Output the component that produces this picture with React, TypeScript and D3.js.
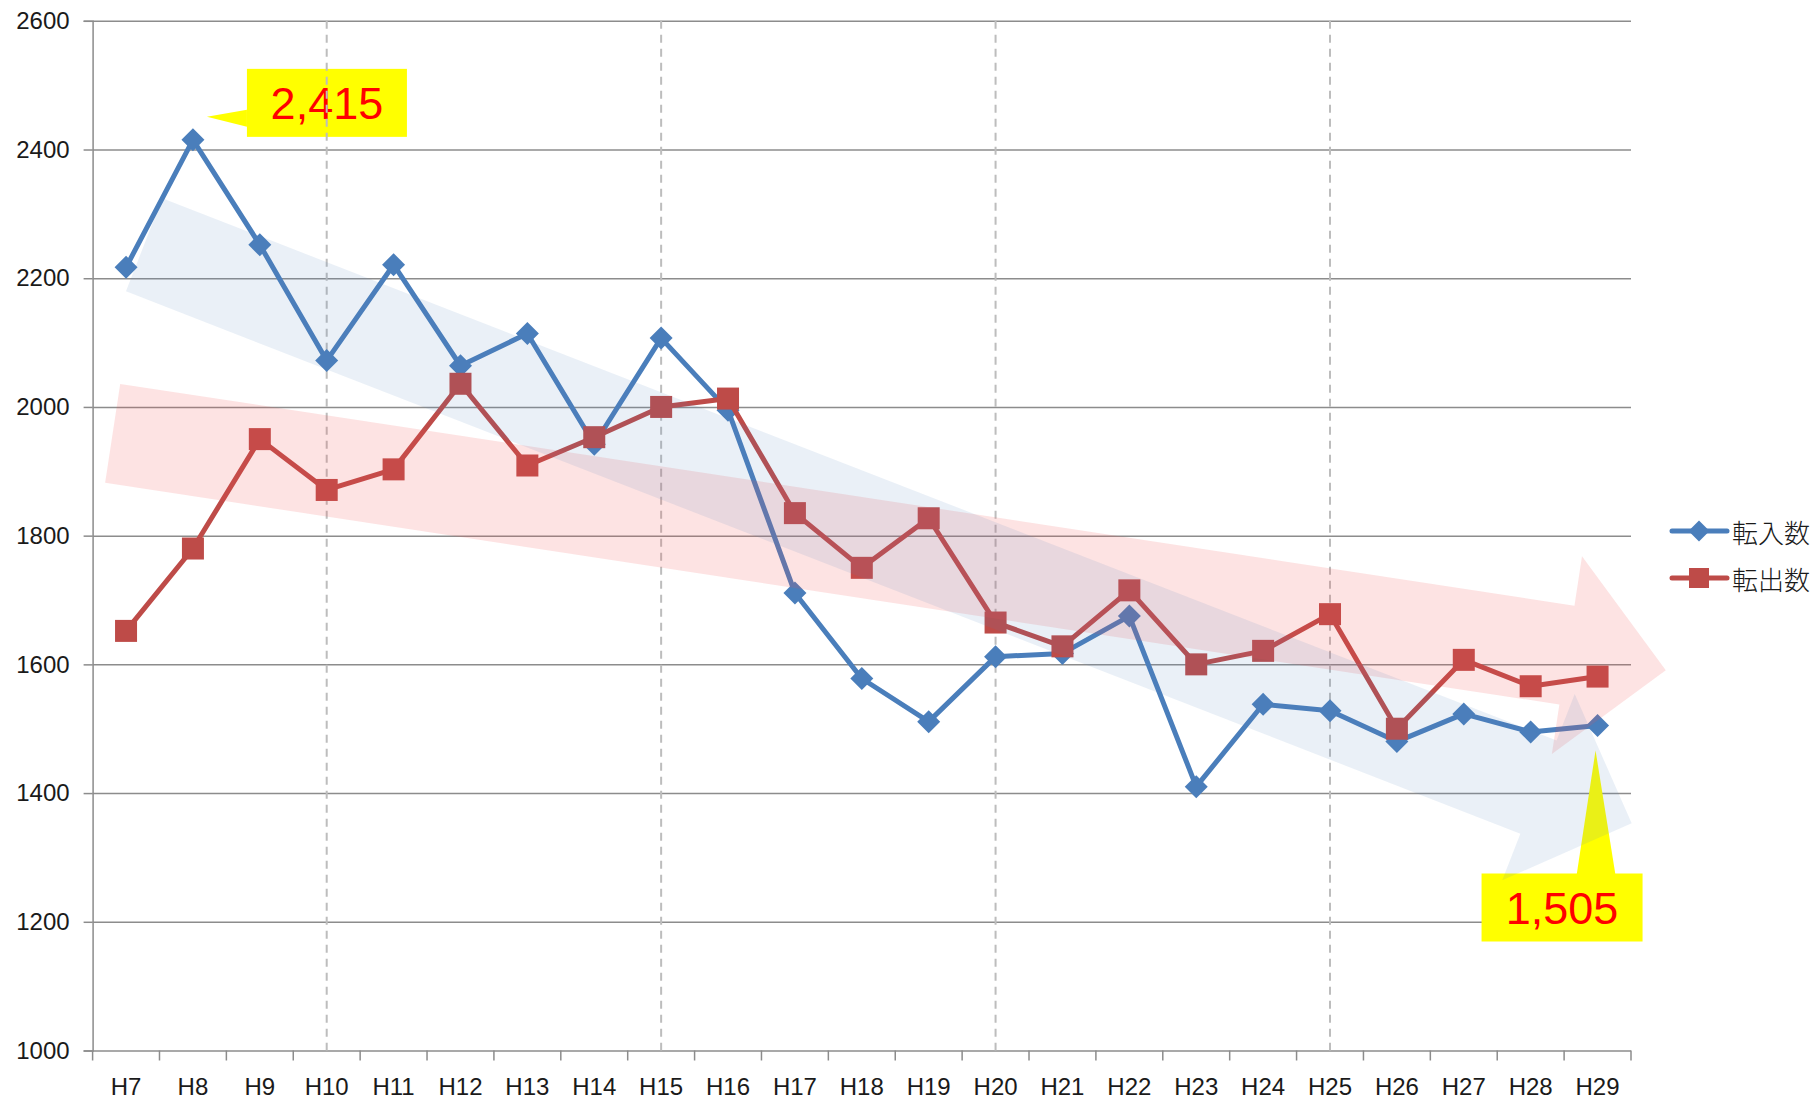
import * as d3 from "d3";
import { useRef, useEffect } from "react";

// 年度
const categories = [
  "H7", "H8", "H9", "H10", "H11", "H12", "H13", "H14", "H15", "H16", "H17", "H18",
  "H19", "H20", "H21", "H22", "H23", "H24", "H25", "H26", "H27", "H28", "H29",
];

// 転入数
const inflow = [
  2217, 2415, 2252, 2072, 2221, 2064, 2114, 1942, 2107, 1995, 1711, 1578,
  1511, 1612, 1617, 1675, 1410, 1538, 1528, 1480, 1523, 1495, 1505,
];

// 転出数
const outflow = [
  1652, 1780, 1950, 1871, 1903, 2036, 1909, 1953, 2000, 2013, 1835, 1750,
  1827, 1665, 1628, 1715, 1600, 1621, 1678, 1500, 1607, 1566, 1581,
];

const yTicks = [1000, 1200, 1400, 1600, 1800, 2000, 2200, 2400, 2600];
const dashedYears = ["H10", "H15", "H20", "H25"];
const seriesNames = ["転入数", "転出数"];

// trend arrows: [category index, value] tail -> tip
const blueTrend = [[0.27, 2252], [22.51, 1353]];
const redTrend = [[-0.2, 1959], [23.02, 1591]];

export default function App() {
  const width = 1814;
  const height = 1098;
  const marginLeft = 92.6;
  const plotRight = 1631;
  const marginTop = 20.8;
  const plotBottom = 1050.5;

  const blue = "#4A7EBB";
  const red = "#BE4B48";
  const gridColor = "#8C8C8C";
  const numFont = "'Liberation Sans', Arial, sans-serif";

  const ref = useRef(null);

  useEffect((): void => {
    if (!ref.current) return;
    const svg = d3.select(ref.current);
    svg.selectAll("*").remove();

    const x = d3.scaleBand().domain(categories).range([marginLeft, plotRight]).padding(0);
    const bw = x.bandwidth();
    const cx = (c: string) => (x(c) as number) + bw / 2;
    const xi = (i: number) => marginLeft + (i + 0.5) * bw;
    const y = d3.scaleLinear().domain([1000, 2600]).range([plotBottom, marginTop]);

    const diamond = (r: number) => `M0,${-r}L${r},0L0,${r}L${-r},0Z`;

    // horizontal gridlines + y axis
    const yAxis = d3
      .axisLeft(y)
      .tickValues(yTicks)
      .tickSize(9)
      .tickPadding(14)
      .tickFormat(d3.format("d"));
    svg
      .append("g")
      .attr("transform", `translate(${marginLeft},0)`)
      .call(yAxis)
      .call((g) => g.select(".domain").attr("stroke", gridColor).attr("stroke-width", 1.5))
      .call((g) => g.selectAll(".tick line").attr("stroke", gridColor).attr("stroke-width", 1.5))
      .call((g) =>
        g
          .selectAll(".tick text")
          .attr("font-family", numFont)
          .attr("font-size", 24)
          .attr("fill", "#1a1a1a"),
      )
      .call((g) =>
        g
          .selectAll(".tick")
          .append("line")
          .attr("x1", 0)
          .attr("x2", plotRight - marginLeft)
          .attr("stroke", gridColor)
          .attr("stroke-width", 1.5),
      );

    // x axis with ticks at category boundaries
    const xg = svg.append("g");
    const bounds = categories.map((c) => x(c) as number).concat([plotRight]);
    xg.selectAll("line.tk")
      .data(bounds)
      .enter()
      .append("line")
      .attr("x1", (d) => d)
      .attr("x2", (d) => d)
      .attr("y1", plotBottom)
      .attr("y2", plotBottom + 10)
      .attr("stroke", gridColor)
      .attr("stroke-width", 1.5);
    xg.selectAll("text")
      .data(categories)
      .enter()
      .append("text")
      .attr("x", (d) => cx(d))
      .attr("y", plotBottom + 44)
      .attr("text-anchor", "middle")
      .attr("font-family", numFont)
      .attr("font-size", 24)
      .attr("fill", "#1a1a1a")
      .text((d) => d);

    // callouts
    const callout = (
      i: number,
      v: number,
      label: string,
      box: [number, number, number, number],
      ptr: [number, number][],
    ) => {
      const px = xi(i);
      const py = y(v);
      const g = svg.append("g").attr("transform", `translate(${px},${py})`);
      g.append("polygon")
        .attr("points", ptr.map((p) => p.join(",")).join(" "))
        .attr("fill", "#FFFF00");
      g.append("rect")
        .attr("x", box[0])
        .attr("y", box[1])
        .attr("width", box[2])
        .attr("height", box[3])
        .attr("fill", "#FFFF00");
      g.append("text")
        .attr("x", box[0] + box[2] / 2)
        .attr("y", box[1] + box[3] / 2 + 16)
        .attr("text-anchor", "middle")
        .attr("font-family", numFont)
        .attr("font-size", 45)
        .attr("fill", "#FF0000")
        .text(label);
    };
    const i8 = categories.indexOf("H8");
    callout(i8, inflow[i8], d3.format(",")(inflow[i8]), [54, -71, 160, 68], [
      [54, -30],
      [14, -23],
      [54, -13],
    ]);
    const i29 = categories.indexOf("H29");
    callout(i29, inflow[i29], d3.format(",")(inflow[i29]), [-116, 148, 161, 68], [
      [-21, 150],
      [-2, 25],
      [18, 150],
    ]);

    // dashed verticals
    svg
      .append("g")
      .selectAll("line")
      .data(dashedYears)
      .enter()
      .append("line")
      .attr("x1", (d) => cx(d))
      .attr("x2", (d) => cx(d))
      .attr("y1", marginTop)
      .attr("y2", plotBottom)
      .attr("stroke", "#BDBDBD")
      .attr("stroke-width", 2)
      .attr("stroke-dasharray", "8,6");

    // series
    const line = d3
      .line<number>()
      .x((_, i) => xi(i))
      .y((d) => y(d));

    svg
      .append("path")
      .datum(inflow)
      .attr("d", line)
      .attr("fill", "none")
      .attr("stroke", blue)
      .attr("stroke-width", 5)
      .attr("stroke-linejoin", "round");
    svg
      .append("g")
      .selectAll("path")
      .data(inflow)
      .enter()
      .append("path")
      .attr("d", diamond(11.5))
      .attr("transform", (d, i) => `translate(${xi(i)},${y(d)})`)
      .attr("fill", blue);

    svg
      .append("path")
      .datum(outflow)
      .attr("d", line)
      .attr("fill", "none")
      .attr("stroke", red)
      .attr("stroke-width", 5)
      .attr("stroke-linejoin", "round");
    svg
      .append("g")
      .selectAll("rect")
      .data(outflow)
      .enter()
      .append("rect")
      .attr("x", (_, i) => xi(i) - 11)
      .attr("y", (d) => y(d) - 11)
      .attr("width", 22)
      .attr("height", 22)
      .attr("fill", red);

    // trend arrows (translucent, on top)
    const arrow = (t: number[][], fill: string, opacity: number) => {
      const x0 = xi(t[0][0]);
      const y0 = y(t[0][1]);
      const x1 = xi(t[1][0]);
      const y1 = y(t[1][1]);
      const len = Math.hypot(x1 - x0, y1 - y0);
      const ux = (x1 - x0) / len;
      const uy = (y1 - y0) / len;
      const nx = -uy;
      const ny = ux;
      const hw = 50;
      const hl = 100;
      const bx = x1 - ux * hl;
      const by = y1 - uy * hl;
      const pts = [
        [x0 - nx * hw, y0 - ny * hw],
        [bx - nx * hw, by - ny * hw],
        [bx - nx * hw * 2, by - ny * hw * 2],
        [x1, y1],
        [bx + nx * hw * 2, by + ny * hw * 2],
        [bx + nx * hw, by + ny * hw],
        [x0 + nx * hw, y0 + ny * hw],
      ];
      svg
        .append("polygon")
        .attr("points", pts.map((p) => p.join(",")).join(" "))
        .attr("fill", fill)
        .attr("fill-opacity", opacity);
    };
    arrow(redTrend, "rgb(240,80,80)", 0.16);
    arrow(blueTrend, "rgb(79,129,189)", 0.12);

    // legend
    const legend = svg.append("g");
    [blue, red].forEach((col, k) => {
      const ly = 531 + k * 47;
      legend
        .append("line")
        .attr("x1", 1672)
        .attr("x2", 1727)
        .attr("y1", ly)
        .attr("y2", ly)
        .attr("stroke", col)
        .attr("stroke-width", 5)
        .attr("stroke-linecap", "round");
      if (k === 0) {
        legend
          .append("path")
          .attr("d", diamond(10.5))
          .attr("transform", `translate(1699,${ly})`)
          .attr("fill", col);
      } else {
        legend
          .append("rect")
          .attr("x", 1689)
          .attr("y", ly - 10)
          .attr("width", 20)
          .attr("height", 20)
          .attr("fill", col);
      }
      legend
        .append("text")
        .attr("x", 1732)
        .attr("y", ly)
        .attr("dominant-baseline", "central")
        .attr("font-family", "'Noto Sans CJK JP', sans-serif")
        .attr("font-weight", 300)
        .attr("font-size", 26)
        .attr("fill", "#1a1a1a")
        .text(seriesNames[k]);
    });
  }, []);

  return (
    <svg
      ref={ref}
      width={width}
      height={height}
      style={{ position: "absolute", left: 0, top: 0, background: "#fff" }}
    />
  );
}
